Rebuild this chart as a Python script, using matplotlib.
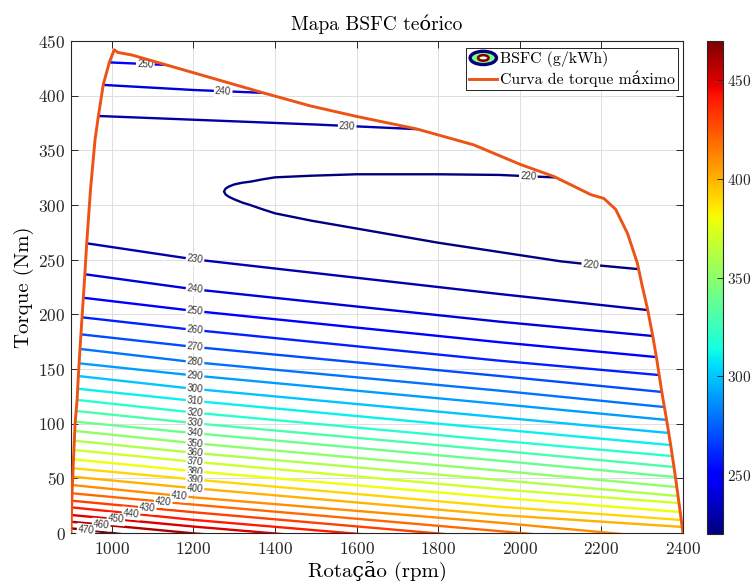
import numpy as np
import matplotlib
matplotlib.use("Agg")
import matplotlib.pyplot as plt
from matplotlib.colors import Normalize
from matplotlib.cm import ScalarMappable
from matplotlib.patches import Ellipse, Polygon
from matplotlib.legend_handler import HandlerBase
from matplotlib.lines import Line2D

plt.rcParams['font.family'] = ['cmr10', 'DejaVu Serif']
plt.rcParams['axes.formatter.use_mathtext'] = True
plt.rcParams['mathtext.fontset'] = 'cm'

# curva de torque maximo (rpm, Nm)
curve_rpm = [900, 902.5, 906, 910, 915, 918, 922, 927, 934, 938.5, 948, 959, 967, 979,
             994, 1006, 1015, 1023, 1049, 1200, 1372, 1487, 1600, 1748, 1887, 2002, 2084,
             2174, 2206, 2235, 2264, 2288, 2300, 2313, 2326, 2336, 2348, 2360, 2370, 2380,
             2390, 2400]
curve_torque = [0, 36, 67, 100, 122, 144, 168, 197, 237, 265, 315, 360, 381, 410,
                430.5, 442, 439.5, 439, 437.2, 421, 402.5, 390.6, 381, 369.5, 355, 337, 326,
                309.5, 306, 296, 274, 247, 226, 205, 180, 158, 129, 103, 80, 55,
                28, 0]

# BSFC (g/kWh) - ramo inferior das curvas de nivel
levels_low = [230, 240, 250, 260, 270, 280, 290, 300, 310, 320, 330, 340, 350,
              360, 370, 380, 390, 400, 410, 420, 430, 440, 450, 460, 470]
speeds_low = [900, 1200, 1950, 2400]
torque_low = [
    [267.1, 250.4, 218.6, 200.4],
    [238.4, 223.0, 193.3, 177.6],
    [216.5, 203.2, 174.5, 158.6],
    [198.4, 185.8, 157.6, 142.5],
    [182.7, 170.3, 143.6, 127.1],
    [169.3, 156.3, 130.2, 113.5],
    [156.0, 144.1, 118.0, 102.0],
    [144.3, 131.9, 105.8, 90.3],
    [132.6, 120.9, 94.8, 79.4],
    [122.3, 110.2, 84.4, 69.5],
    [112.1, 100.5, 75.3, 59.6],
    [102.2, 91.4, 66.1, 50.5],
    [93.7, 82.2, 57.0, 41.5],
    [84.7, 73.4, 48.5, 33.4],
    [76.2, 65.2, 40.0, 27.1],
    [67.6, 56.6, 32.3, 19.0],
    [59.4, 49.0, 24.1, 11.8],
    [51.6, 41.0, 16.5, 5.5],
    [44.0, 32.6, 9.4, -6.1],
    [36.4, 26.0, 1.7, -13.0],
    [29.6, 19.0, -5.3, -20.0],
    [23.5, 12.0, -11.8, -26.6],
    [16.5, 5.9, -17.8, -32.0],
    [10.3, -0.3, -22.0, -35.0],
    [4.3, -8.5, -40.0, -59.0],
]
label_rpm_low = [1204] * 18 + [1165, 1126, 1087, 1047, 1010, 974, 937]

# ramo superior
levels_up = [230, 240, 250]
speeds_up = [900, 1200, 1500, 1800]
torque_up = [
    [382.4, 378.0, 373.6, 368.5],
    [411.5, 405.2, 400.6, 396.0],
    [432.0, 427.0, 422.0, 417.0],
]
label_rpm_up = [1577, 1273, 1082]

# curva fechada de 220 g/kWh
loop_rpm = [1275, 1279, 1287, 1300, 1320, 1339, 1370, 1400, 1490, 1600, 1800, 1950,
            2100, 2200, 2330]
loop_upper = [312.3, 315.0, 316.9, 318.8, 320.4, 321.3, 323.5, 325.3, 326.8, 328.1,
              328.1, 327.5, 325.0, 323.0, 321.0]
loop_lower = [312.3, 309.6, 307.5, 305.2, 302.2, 300.0, 296.0, 292.4, 285.6, 278.5,
              265.5, 257.0, 248.5, 244.5, 240.0]
label_rpm_loop = [2021, 2174]

cmap = plt.get_cmap('jet')
norm = Normalize(220, 470)

W, H = 751, 581
fig = plt.figure(figsize=(W / 100, H / 100), dpi=100)
ax = fig.add_axes([71 / W, 1 - 533 / H, 612 / W, 492 / H])
ax.set_xlim(900, 2400)
ax.set_ylim(0, 450)
ax.set_xticks([1000, 1200, 1400, 1600, 1800, 2000, 2200, 2400])
ax.set_yticks(np.arange(0, 451, 50))
ax.grid(True, color='#dedede', lw=0.7)
ax.set_axisbelow(True)
ax.tick_params(direction='in', top=True, right=True, length=5, width=0.7,
               colors='#262626', labelsize=12.5)
ax.tick_params(axis='x', pad=6)
ax.tick_params(axis='y', pad=4)
for sp in ax.spines.values():
    sp.set_color('#262626')
    sp.set_linewidth(0.8)

clip = Polygon(np.column_stack([curve_rpm, curve_torque]), closed=True,
               transform=ax.transData)


def draw_level(x, y, level):
    ln, = ax.plot(x, y, color=cmap(norm(level)), lw=1.7, solid_capstyle='butt',
                  solid_joinstyle='round', zorder=2)
    ln.set_clip_path(clip)


def put_label(x, y, level, at):
    t = np.interp(at, x, y)
    p1 = ax.transData.transform((at - 15, np.interp(at - 15, x, y)))
    p2 = ax.transData.transform((at + 15, np.interp(at + 15, x, y)))
    ang = np.degrees(np.arctan2(p2[1] - p1[1], p2[0] - p1[0]))
    ax.text(at, t, str(level), rotation=ang, rotation_mode='anchor',
            ha='center', va='center', fontsize=7, color='#333333',
            family='Liberation Sans', zorder=3,
            bbox=dict(fc='white', ec='none', pad=0.9))


for lev, row, at in zip(levels_low, torque_low, label_rpm_low):
    draw_level(speeds_low, row, lev)
    put_label(speeds_low, row, lev, at)

for lev, row, at in zip(levels_up, torque_up, label_rpm_up):
    draw_level(speeds_up, row, lev)
    put_label(speeds_up, row, lev, at)

loop_x = loop_rpm[::-1] + loop_rpm[1:]
loop_y = loop_upper[::-1] + loop_lower[1:]
draw_level(loop_x, loop_y, 220)
put_label(loop_rpm, loop_upper, 220, label_rpm_loop[0])
put_label(loop_rpm, loop_lower, 220, label_rpm_loop[1])

ax.plot(curve_rpm, curve_torque, color='#EC5314', lw=2.1, zorder=5)

ax.set_title('Mapa BSFC teórico', fontsize=14, color='#000000', pad=8)
ax.set_xlabel('Rotação (rpm)', fontsize=15)
ax.set_ylabel('Torque (Nm)', fontsize=15)
ax.xaxis.set_label_coords(0.5, (533 - 561) / 492)
ax.yaxis.set_label_coords((34 - 71) / 612, 0.5)


class ContourIcon:
    pass


class HandlerContourIcon(HandlerBase):
    def create_artists(self, legend, orig_handle, xdescent, ydescent, width, height,
                       fontsize, trans):
        cx = width / 2 - xdescent
        cy = height / 2 - ydescent
        e1 = Ellipse((cx, cy), width * 0.95, height * 1.2, fc='#80ff80',
                     ec=cmap(0.0), lw=2.4, transform=trans)
        e2 = Ellipse((cx, cy), width * 0.38, height * 0.5, fc='#fff8e0',
                     ec=cmap(1.0), lw=1.8, transform=trans)
        return [e1, e2]


curve_handle = Line2D([], [], color='#EC5314', lw=2.1)
leg = ax.legend([ContourIcon(), curve_handle], ['BSFC (g/kWh)', 'Curva de torque máximo'],
                handler_map={ContourIcon: HandlerContourIcon()},
                loc='upper right', bbox_to_anchor=(677.7 / W, 1 - 48.3 / H),
                bbox_transform=fig.transFigure, fontsize=11.4, fancybox=False,
                framealpha=1, edgecolor='#000000', handlelength=1.75,
                handletextpad=0.15, borderpad=0.2, labelspacing=0.2,
                borderaxespad=0)
leg.get_frame().set_linewidth(0.6)
leg.set_zorder(10)

cax = fig.add_axes([707.3 / W, 1 - 534 / H, 15.4 / W, 493 / H])
cb = fig.colorbar(ScalarMappable(norm=norm, cmap=cmap), cax=cax)
cb.set_ticks([250, 300, 350, 400, 450])
cax.tick_params(direction='in', length=4, width=0.7, colors='#262626', labelsize=11,
                pad=3)
cb.outline.set_linewidth(0.8)
cb.outline.set_edgecolor('#262626')

fig.savefig('out.png', dpi=100)
